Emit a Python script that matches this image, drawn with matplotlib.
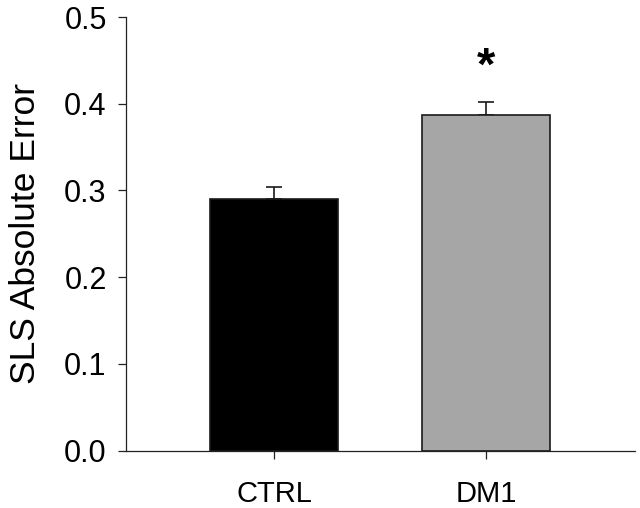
import matplotlib
matplotlib.use('Agg')
import matplotlib.pyplot as plt

plt.rcParams['font.family'] = ['Liberation Sans', 'DejaVu Sans']

groups = ['CTRL', 'DM1']
means = [0.290, 0.387]
sems = [0.0135, 0.0145]
colors = ['#000000', '#a6a6a6']

fig = plt.figure(figsize=(6.4, 5.08), dpi=100)
ax = fig.add_axes([0.197, 0.1128, 0.795, 0.8537])

x = [0, 1]
ax.bar(x, means, width=0.604, color=colors, edgecolor='#1a1a1a', linewidth=1.2, zorder=2)
ax.errorbar(x, means, yerr=[[0, 0], sems], fmt='none', ecolor='#1a1a1a',
            elinewidth=1.2, capsize=6, capthick=1.2, zorder=1)

# significance marker
ax.text(1, 0.442, '*', ha='center', va='center', fontsize=34, fontweight='bold')

ax.set_xlim(-0.698, 1.703)
ax.set_ylim(0, 0.5)
ax.set_xticks(x)
ax.set_xticklabels(groups, fontsize=21)
ax.set_yticks([0, 0.1, 0.2, 0.3, 0.4, 0.5])
ax.set_yticklabels(['0.0', '0.1', '0.2', '0.3', '0.4', '0.5'], fontsize=22)
ax.set_ylabel('SLS Absolute Error', fontsize=25.5, labelpad=16)
ax.tick_params(direction='out', length=6, width=0.9, color='#222222')
ax.tick_params(axis='y', pad=8)
ax.tick_params(axis='x', pad=15)

for s in ['top', 'right']:
    ax.spines[s].set_visible(False)
for s in ['left', 'bottom']:
    ax.spines[s].set_linewidth(0.9)
    ax.spines[s].set_color('#222222')

fig.savefig('out.png', dpi=100)
